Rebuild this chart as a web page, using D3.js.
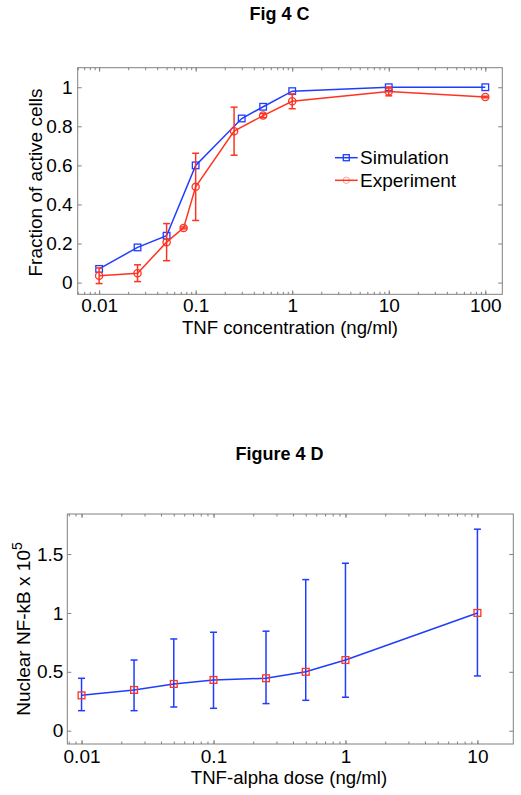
<!DOCTYPE html>
<html>
<head>
<meta charset="utf-8">
<script src="https://cdn.jsdelivr.net/npm/d3@7"></script>
<style>
  html, body { margin: 0; padding: 0; background: #fff; }
  svg { display: block; }
  text { font-family: "Liberation Sans", Arial, sans-serif; fill: #000; }
</style>
</head>
<body>
<script>
// ---------- Data: Fig 4 C ----------
const simDose   = [0.01, 0.025, 0.05, 0.1, 0.3, 0.5, 1, 10, 100];
const simFrac   = [0.07, 0.18, 0.24, 0.60, 0.84, 0.90, 0.98, 1.00, 1.00];
const expDose   = [0.01, 0.025, 0.05, 0.075, 0.1, 0.25, 0.5, 1, 10, 100];
const expFrac   = [0.035, 0.048, 0.207, 0.28, 0.49, 0.775, 0.855, 0.928, 0.978, 0.95];
const expErr    = [0.04, 0.043, 0.095, 0.005, 0.172, 0.123, 0.01, 0.038, 0.022, 0.004];
const cXTicks   = [0.01, 0.1, 1, 10, 100];
const cXLabels  = ["0.01", "0.1", "1", "10", "100"];
const cYTicks   = [0, 0.2, 0.4, 0.6, 0.8, 1];
const cYLabels  = ["0", "0.2", "0.4", "0.6", "0.8", "1"];
const legendLabels = ["Simulation", "Experiment"];

// ---------- Data: Figure 4 D ----------
const nfDose    = [0.01, 0.025, 0.05, 0.1, 0.25, 0.5, 1, 10];
const nfMean    = [0.30, 0.346, 0.397, 0.431, 0.445, 0.50, 0.60, 1.00];
const nfUpper   = [0.445, 0.60, 0.779, 0.836, 0.845, 1.283, 1.422, 1.711];
const nfLower   = [0.17, 0.17, 0.201, 0.19, 0.23, 0.258, 0.284, 0.465];
const dXTicks   = [0.01, 0.1, 1, 10];
const dXLabels  = ["0.01", "0.1", "1", "10"];
const dYTicks   = [0, 0.5, 1, 1.5];
const dYLabels  = ["0", "0.5", "1", "1.5"];

const BLUE = "#1f3dff", RED = "#ff3322", GRID = "#808080";
const FS = 19;

const svg = d3.select("body").append("svg").attr("width", 521).attr("height", 795);

function minorTicks(domain) {
  const out = [];
  const lo = Math.floor(Math.log10(domain[0])), hi = Math.ceil(Math.log10(domain[1]));
  for (let e = lo; e <= hi; e++) for (let m = 1; m <= 9; m++) {
    const v = m * Math.pow(10, e);
    if (v >= domain[0] && v <= domain[1]) out.push(v);
  }
  return out;
}

function frame(g, x, y, xt, xl, yt, yl, pad) {
  const [x0, x1] = x.range(), [y0, y1] = y.range(); // y0 bottom
  const mins = minorTicks(x.domain());
  g.append("g").attr("transform", `translate(0,${y0})`)
    .call(d3.axisBottom(x).tickValues(mins).tickSize(-2.5).tickFormat(""))
    .call(s => s.select(".domain").remove());
  g.append("g").attr("transform", `translate(0,${y1})`)
    .call(d3.axisTop(x).tickValues(mins).tickSize(-2.5).tickFormat(""))
    .call(s => s.select(".domain").remove());
  g.append("g").attr("transform", `translate(0,${y0})`)
    .call(d3.axisBottom(x).tickValues(xt).tickSize(-4).tickPadding(pad.x)
      .tickFormat((d, i) => xl[i]))
    .call(s => s.select(".domain").remove());
  g.append("g").attr("transform", `translate(0,${y1})`)
    .call(d3.axisTop(x).tickValues(xt).tickSize(-4).tickFormat(""))
    .call(s => s.select(".domain").remove());
  g.append("g").attr("transform", `translate(${x0},0)`)
    .call(d3.axisLeft(y).tickValues(yt).tickSize(-4).tickPadding(pad.y)
      .tickFormat((d, i) => yl[i]))
    .call(s => s.select(".domain").remove());
  g.append("g").attr("transform", `translate(${x1},0)`)
    .call(d3.axisRight(y).tickValues(yt).tickSize(-4).tickFormat(""))
    .call(s => s.select(".domain").remove());
  g.selectAll(".tick line").attr("stroke", GRID);
  g.selectAll(".tick text").attr("font-size", FS).attr("font-family", '"Liberation Sans", Arial, sans-serif').attr("fill", "#000");
  g.append("rect").attr("x", x0).attr("y", y1).attr("width", x1 - x0).attr("height", y0 - y1)
    .attr("fill", "none").attr("stroke", GRID).attr("stroke-width", 1);
}

// ================= Fig 4 C =================
{
  const g = svg.append("g");
  const x = d3.scaleLog().domain([0.006, 150]).range([77.7, 502.3]);
  const y = d3.scaleLinear().domain([-0.06, 1.1]).range([294.3, 67.7]);
  frame(g, x, y, cXTicks, cXLabels, cYTicks, cYLabels, {x: 4, y: 5});

  const line = d3.line().x(d => x(d[0])).y(d => y(d[1]));
  const sim = simDose.map((d, i) => [d, simFrac[i]]);
  g.append("path").attr("d", line(sim)).attr("fill", "none").attr("stroke", BLUE).attr("stroke-width", 1.5);
  g.selectAll(".simm").data(sim).join("rect")
    .attr("x", d => x(d[0]) - 3.3).attr("y", d => y(d[1]) - 3.3).attr("width", 6.6).attr("height", 6.6)
    .attr("fill", "none").attr("stroke", BLUE).attr("stroke-width", 1.3);
  const ex = expDose.map((d, i) => [d, expFrac[i], expErr[i]]);
  g.append("path").attr("d", line(ex)).attr("fill", "none").attr("stroke", RED).attr("stroke-width", 1.5);
  const eb = g.selectAll(".eb").data(ex).join("g").attr("stroke", RED).attr("stroke-width", 1.5);
  eb.append("line").attr("x1", d => x(d[0])).attr("x2", d => x(d[0]))
    .attr("y1", d => y(d[1] - d[2])).attr("y2", d => y(d[1] + d[2]));
  eb.append("line").attr("x1", d => x(d[0]) - 3.5).attr("x2", d => x(d[0]) + 3.5)
    .attr("y1", d => y(d[1] - d[2])).attr("y2", d => y(d[1] - d[2]));
  eb.append("line").attr("x1", d => x(d[0]) - 3.5).attr("x2", d => x(d[0]) + 3.5)
    .attr("y1", d => y(d[1] + d[2])).attr("y2", d => y(d[1] + d[2]));
  g.selectAll(".exm").data(ex).join("circle")
    .attr("cx", d => x(d[0])).attr("cy", d => y(d[1])).attr("r", 3.6)
    .attr("fill", "none").attr("stroke", RED).attr("stroke-width", 1.3);

  const lg = g.append("g");
  [[BLUE, 157.7], [RED, 180.3]].forEach(([c, ly], i) => {
    lg.append("line").attr("x1", 335).attr("x2", 357.7).attr("y1", ly).attr("y2", ly)
      .attr("stroke", c).attr("stroke-width", 1.5);
    if (i === 0) {
      lg.append("rect").attr("x", 346.3 - 3).attr("y", ly - 3).attr("width", 6).attr("height", 6)
        .attr("fill", "none").attr("stroke", c).attr("stroke-width", 1.3);
    } else {
      lg.append("circle").attr("cx", 346.3).attr("cy", ly).attr("r", 3.2)
        .attr("fill", "none").attr("stroke", c).attr("stroke-width", 1).attr("stroke-opacity", 0.45);
    }
    lg.append("text").attr("x", 360).attr("y", ly + 6.7).attr("font-size", FS).text(legendLabels[i]);
  });

  svg.append("text").attr("x", 279.5).attr("y", 20).attr("text-anchor", "middle")
    .attr("font-size", 18).attr("font-weight", "bold").text("Fig 4 C");
  svg.append("text").attr("x", 290).attr("y", 334).attr("text-anchor", "middle")
    .attr("font-size", 18.6).text("TNF concentration (ng/ml)");
  svg.append("text").attr("transform", "translate(41.7,182.5) rotate(-90)").attr("text-anchor", "middle")
    .attr("font-size", FS).text("Fraction of active cells");
}

// ================= Figure 4 D =================
{
  const g = svg.append("g");
  const x = d3.scaleLog().domain([0.0078, 18.7]).range([67.3, 513.3]);
  const y = d3.scaleLinear().domain([-0.113, 1.84]).range([744, 514]);
  frame(g, x, y, dXTicks, dXLabels, dYTicks, dYLabels, {x: 5.5, y: 4});

  const pts = nfDose.map((d, i) => [d, nfMean[i], nfLower[i], nfUpper[i]]);
  const eb = g.selectAll(".eb").data(pts).join("g").attr("stroke", BLUE).attr("stroke-width", 1.5);
  eb.append("line").attr("x1", d => x(d[0])).attr("x2", d => x(d[0]))
    .attr("y1", d => y(d[2])).attr("y2", d => y(d[3]));
  eb.append("line").attr("x1", d => x(d[0]) - 3.5).attr("x2", d => x(d[0]) + 3.5)
    .attr("y1", d => y(d[2])).attr("y2", d => y(d[2]));
  eb.append("line").attr("x1", d => x(d[0]) - 3.5).attr("x2", d => x(d[0]) + 3.5)
    .attr("y1", d => y(d[3])).attr("y2", d => y(d[3]));
  const line = d3.line().x(d => x(d[0])).y(d => y(d[1]));
  g.append("path").attr("d", line(pts)).attr("fill", "none").attr("stroke", BLUE).attr("stroke-width", 1.5);
  g.selectAll(".m").data(pts).join("rect")
    .attr("x", d => x(d[0]) - 3.4).attr("y", d => y(d[1]) - 3.4).attr("width", 6.8).attr("height", 6.8)
    .attr("fill", "none").attr("stroke", RED).attr("stroke-width", 1.3);

  svg.append("text").attr("x", 279.5).attr("y", 460).attr("text-anchor", "middle")
    .attr("font-size", 18).attr("font-weight", "bold").text("Figure 4 D");
  svg.append("text").attr("x", 289).attr("y", 784).attr("text-anchor", "middle")
    .attr("font-size", 18.6).text("TNF-alpha dose (ng/ml)");
  const yl = svg.append("text").attr("transform", "translate(29.5,629) rotate(-90)").attr("text-anchor", "middle")
    .attr("font-size", FS);
  yl.append("tspan").text("Nuclear NF-kB x 10");
  yl.append("tspan").attr("dy", -8).attr("font-size", 14).text("5");
}
</script>
</body>
</html>
